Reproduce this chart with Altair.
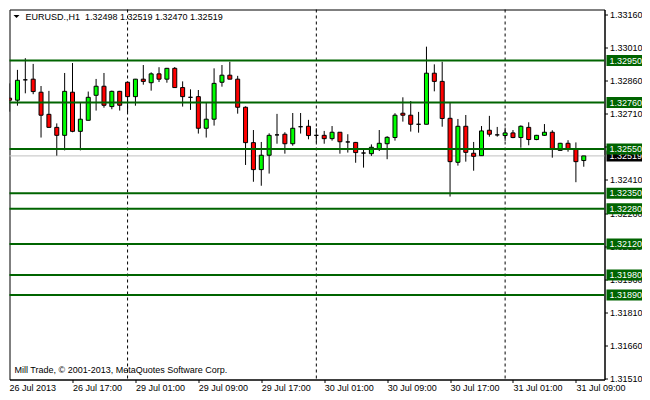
import json
import altair as alt
import pandas as pd

# ---------------- data ----------------
symbol = "EURUSD.,H1"
opens = [1.32780, 1.32771, 1.32863, 1.32866, 1.32807, 1.32707, 1.32648, 1.32612, 1.32807, 1.32630,
         1.32680, 1.32793, 1.32834, 1.32742, 1.32811, 1.32852, 1.32787, 1.32866, 1.32850, 1.32890,
         1.32866, 1.32915, 1.32828, 1.32784, 1.32787, 1.32644, 1.32685, 1.32852, 1.32884, 1.32866,
         1.32739, 1.32579, 1.32457, 1.32522, 1.32614, 1.32617, 1.32574, 1.32651, 1.32653, 1.32612,
         1.32612, 1.32597, 1.32626, 1.32582, 1.32580, 1.32532, 1.32529, 1.32549, 1.32574, 1.32602,
         1.32712, 1.32703, 1.32662, 1.32662, 1.32893, 1.32856, 1.32689, 1.32490, 1.32653, 1.32531,
         1.32520, 1.32635, 1.32614, 1.32611, 1.32623, 1.32602, 1.32648, 1.32593, 1.32612, 1.32626,
         1.32544, 1.32576, 1.32550, 1.32498]
highs = [1.32847, 1.32908, 1.32961, 1.32935, 1.32835, 1.32813, 1.32666, 1.32894, 1.32939, 1.32760,
         1.32810, 1.32867, 1.32894, 1.32814, 1.32813, 1.32855, 1.32867, 1.32930, 1.32897, 1.32920,
         1.32917, 1.32921, 1.32856, 1.32820, 1.32817, 1.32760, 1.32915, 1.32930, 1.32945, 1.32881,
         1.32743, 1.32636, 1.32582, 1.32621, 1.32709, 1.32626, 1.32713, 1.32713, 1.32682, 1.32644,
         1.32632, 1.32654, 1.32626, 1.32617, 1.32582, 1.32547, 1.32571, 1.32636, 1.32608, 1.32712,
         1.32784, 1.32767, 1.32718, 1.33013, 1.32933, 1.32945, 1.32761, 1.32686, 1.32704, 1.32582,
         1.32654, 1.32700, 1.32650, 1.32647, 1.32636, 1.32657, 1.32671, 1.32614, 1.32663, 1.32635,
         1.32578, 1.32590, 1.32580, 1.32519]
lows = [1.32719, 1.32746, 1.32802, 1.32798, 1.32602, 1.32647, 1.32520, 1.32544, 1.32626, 1.32544,
        1.32680, 1.32724, 1.32737, 1.32730, 1.32724, 1.32716, 1.32746, 1.32841, 1.32814, 1.32853,
        1.32850, 1.32826, 1.32742, 1.32727, 1.32620, 1.32602, 1.32656, 1.32832, 1.32866, 1.32710,
        1.32478, 1.32402, 1.32384, 1.32439, 1.32574, 1.32529, 1.32565, 1.32620, 1.32594, 1.32580,
        1.32574, 1.32588, 1.32529, 1.32534, 1.32488, 1.32466, 1.32519, 1.32541, 1.32504, 1.32588,
        1.32674, 1.32629, 1.32624, 1.32662, 1.32811, 1.32651, 1.32335, 1.32475, 1.32493, 1.32452,
        1.32520, 1.32606, 1.32606, 1.32587, 1.32599, 1.32556, 1.32567, 1.32590, 1.32610, 1.32511,
        1.32544, 1.32538, 1.32400, 1.32470]
closes = [1.32771, 1.32861, 1.32863, 1.32810, 1.32703, 1.32648, 1.32612, 1.32811, 1.32630, 1.32685,
          1.32784, 1.32834, 1.32748, 1.32811, 1.32748, 1.32787, 1.32866, 1.32856, 1.32890, 1.32866,
          1.32915, 1.32828, 1.32787, 1.32784, 1.32644, 1.32685, 1.32847, 1.32884, 1.32866, 1.32739,
          1.32579, 1.32457, 1.32522, 1.32612, 1.32614, 1.32574, 1.32644, 1.32651, 1.32611, 1.32612,
          1.32597, 1.32626, 1.32583, 1.32582, 1.32534, 1.32532, 1.32558, 1.32576, 1.32603, 1.32703,
          1.32703, 1.32662, 1.32662, 1.32893, 1.32856, 1.32688, 1.32493, 1.32653, 1.32535, 1.32517,
          1.32632, 1.32617, 1.32614, 1.32623, 1.32602, 1.32653, 1.32593, 1.32612, 1.32626, 1.32550,
          1.32576, 1.32550, 1.32493, 1.32519]

levels = [1.32950, 1.32760, 1.32550, 1.32350, 1.32280, 1.32120, 1.31980, 1.31890]
bid = 1.32519
separators = [15, 39, 63]          # first bar of 29, 30 and 31 Jul
tick_idx = [0, 8, 16, 24, 32, 40, 48, 56, 64, 72]
tick_labels = ["26 Jul 2013", "26 Jul 17:00", "29 Jul 01:00", "29 Jul 09:00", "29 Jul 17:00",
               "30 Jul 01:00", "30 Jul 09:00", "30 Jul 17:00", "31 Jul 01:00", "31 Jul 09:00"]
price_ticks = [1.33160, 1.33010, 1.32860, 1.32710, 1.32560, 1.32410,
               1.32260, 1.32110, 1.31960, 1.31810, 1.31660, 1.31510]
watermark = "Mill Trade, \u00a9 2001-2013, MetaQuotes Software Corp."

# ---------------- layout / style ----------------
W, H = 595, 370
FONT = "Liberation Sans"
FS = 9
GREEN = "#006400"
BOX = "M-1,-0.3056L1,-0.3056L1,0.3056L-1,0.3056Z"
TRI = "M-1,-0.5L1,-0.5L0,0.5Z"

n = len(opens)
candles = pd.DataFrame({
    "i": list(range(n)),
    "open": opens, "high": highs, "low": lows, "close": closes,
})
candles["dir"] = ["up" if c > o else ("down" if c < o else "flat") for o, c in zip(opens, closes)]

xscale = alt.Scale(domain=[0.625, 0.625 + W / 8], nice=False, zero=False)
yscale = alt.Scale(domain=[1.315077, 1.331811], nice=False, zero=False)

label_expr = f"{json.dumps(tick_labels)}[indexof({json.dumps(tick_idx)}, datum.value)]"
xaxis = alt.Axis(values=tick_idx[1:], labelExpr=label_expr, title=None, orient="bottom",
                 tickSize=3, tickColor="black", domainColor="black", labelAlign="left",
                 labelBaseline="top", labelPadding=1, labelFont=FONT, labelFontSize=FS,
                 labelColor="black", grid=False, labelOverlap=False, labelFlush=False)
yaxis = alt.Axis(values=price_ticks, format=".5f", title=None, orient="right",
                 tickSize=3, tickColor="black", domainColor="black", labelAlign="left",
                 labelBaseline="middle", labelPadding=2, labelFont=FONT, labelFontSize=FS,
                 labelColor="black", grid=False, labelOverlap=False, labelFlush=False)


def X(f):
    return alt.X(f, type="quantitative", scale=xscale, axis=xaxis)


def Y(f):
    return alt.Y(f, type="quantitative", scale=yscale, axis=yaxis)


one = pd.DataFrame({"k": [0]})

bid_line = alt.Chart(pd.DataFrame({"p": [bid]})).mark_rule(
    color="#C0C0C0", strokeWidth=1).encode(y=Y("p"))

seps = alt.Chart(pd.DataFrame({"i": separators})).mark_rule(
    color="black", strokeWidth=1, strokeDash=[3, 3]).encode(x=X("i"))

wicks = alt.Chart(candles).mark_rule(color="black", strokeWidth=1, clip=True).encode(
    x=X("i"), y=Y("low"), y2="high")

bodies = alt.Chart(candles).mark_bar(width=4, stroke="black", strokeWidth=1, clip=True).encode(
    x=X("i"), y=Y("open"), y2="close",
    fill=alt.Fill("dir:N", scale=alt.Scale(domain=["up", "down", "flat"],
                                           range=["#00FF00", "#FF0000", "#000000"]), legend=None))

lvl_lines = alt.Chart(pd.DataFrame({"p": levels})).mark_rule(
    color=GREEN, strokeWidth=2).encode(y=Y("p"))

bid_box = alt.Chart(pd.DataFrame({"p": [bid]})).mark_point(
    shape=BOX, size=1296, filled=True, color="black", opacity=1, strokeWidth=0).encode(
    x=alt.value(W + 20), y=Y("p"))
bid_txt = alt.Chart(pd.DataFrame({"p": [bid]})).mark_text(
    align="left", baseline="middle", color="white", font=FONT, fontSize=FS).encode(
    x=alt.value(W + 5), y=Y("p"), text=alt.Text("p:Q", format=".5f"))

lvl_box = alt.Chart(pd.DataFrame({"p": levels})).mark_point(
    shape=BOX, size=1296, filled=True, color=GREEN, opacity=1, strokeWidth=0).encode(
    x=alt.value(W + 20), y=Y("p"))
lvl_txt = alt.Chart(pd.DataFrame({"p": levels})).mark_text(
    align="left", baseline="middle", color="white", font=FONT, fontSize=FS).encode(
    x=alt.value(W + 5), y=Y("p"), text=alt.Text("p:Q", format=".5f"))

title_str = f"{symbol}\u00a0\u00a0{opens[-1]:.5f} {highs[-1]:.5f} {lows[-1]:.5f} {closes[-1]:.5f}"
title_tri = alt.Chart(one).mark_point(shape=TRI, size=36, filled=True, color="black",
                                       opacity=1, strokeWidth=0).encode(
    x=alt.value(7), y=alt.value(7))
title_txt = alt.Chart(pd.DataFrame({"t": [title_str]})).mark_text(
    align="left", baseline="middle", color="black", font=FONT, fontSize=FS).encode(
    x=alt.value(16), y=alt.value(7), text="t:N")

wm_txt = alt.Chart(pd.DataFrame({"t": [watermark]})).mark_text(
    align="left", baseline="middle", color="black", font=FONT, fontSize=FS).encode(
    x=alt.value(5), y=alt.value(H - 9.5), text="t:N")

first_lbl = alt.Chart(pd.DataFrame({"t": [tick_labels[0]]})).mark_text(
    align="left", baseline="top", color="black", font=FONT, fontSize=FS).encode(
    x=alt.value(0), y=alt.value(H + 4), text="t:N")

chart = alt.layer(
    bid_line, seps, wicks, bodies, lvl_lines, title_tri, title_txt, wm_txt,
    bid_box, bid_txt, lvl_box, lvl_txt, first_lbl
).properties(
    width=W, height=H,
    padding={"left": 1.5, "top": 1.5, "right": 37.5, "bottom": 12.5},
    autosize=alt.AutoSizeParams(type="none"),
    background="white",
).configure_view(stroke="black", strokeWidth=1)

chart.save("out.html", embed_options={"renderer": "svg", "actions": False})
